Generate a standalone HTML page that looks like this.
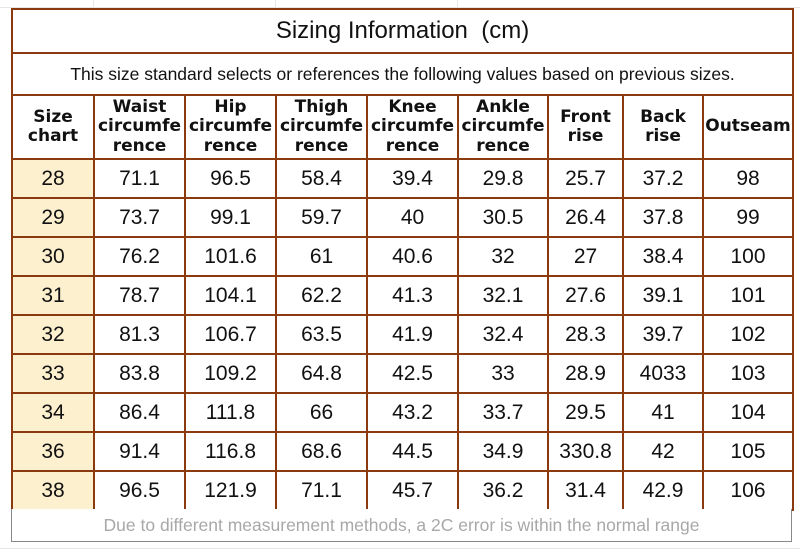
<!DOCTYPE html>
<html><head><meta charset="utf-8"><style>
body{margin:0;width:800px;height:555px;background:#fff;position:relative;overflow:hidden;font-family:"Liberation Sans","DejaVu Sans",sans-serif;}
.grid{position:absolute;background:#e6e6e6}
table{position:absolute;left:11px;top:8px;border-collapse:collapse;table-layout:fixed;width:781px}
td{border:2px solid #8b3a0f;text-align:center;padding:0;color:#111;background:#fff}
.title td{height:42px;font-size:24px}
.sub td{height:40px;font-size:17.5px}
.head td{height:62px;font-size:17px;font-weight:bold;line-height:19.5px;font-family:"DejaVu Sans","Liberation Sans",sans-serif}
.row td{height:37px;font-size:21px}
.row td.sz{background:#fdf0cf}
.foot{position:absolute;left:11px;top:509px;width:779px;height:32px;border:1px solid #888;border-top:none;color:#a8a8a8;font-size:17.5px;text-align:center;line-height:32px;background:#fff}
</style></head><body>
<div class="grid" style="left:0;top:7px;width:800px;height:1px"></div>
<div class="grid" style="left:93px;top:0;width:1px;height:8px"></div>
<div class="grid" style="left:275px;top:0;width:1px;height:8px"></div>
<div class="grid" style="left:457px;top:0;width:1px;height:8px"></div>
<div class="grid" style="left:0;top:548px;width:800px;height:1px"></div>
<table>
<colgroup><col style="width:82px"><col style="width:91px"><col style="width:91px"><col style="width:91px"><col style="width:91px"><col style="width:90px"><col style="width:75px"><col style="width:80px"><col style="width:90px"></colgroup>
<tr class="title"><td colspan="9">Sizing Information&nbsp; (cm)</td></tr>
<tr class="sub"><td colspan="9">This size standard selects or references the following values based on previous sizes.</td></tr>
<tr class="head">
<td>Size<br>chart</td><td>Waist<br>circumfe<br>rence</td><td>Hip<br>circumfe<br>rence</td><td>Thigh<br>circumfe<br>rence</td><td>Knee<br>circumfe<br>rence</td><td>Ankle<br>circumfe<br>rence</td><td>Front<br>rise</td><td>Back<br>rise</td><td>Outseam</td></tr>
<tr class="row"><td class="sz">28</td><td>71.1</td><td>96.5</td><td>58.4</td><td>39.4</td><td>29.8</td><td>25.7</td><td>37.2</td><td>98</td></tr>
<tr class="row"><td class="sz">29</td><td>73.7</td><td>99.1</td><td>59.7</td><td>40</td><td>30.5</td><td>26.4</td><td>37.8</td><td>99</td></tr>
<tr class="row"><td class="sz">30</td><td>76.2</td><td>101.6</td><td>61</td><td>40.6</td><td>32</td><td>27</td><td>38.4</td><td>100</td></tr>
<tr class="row"><td class="sz">31</td><td>78.7</td><td>104.1</td><td>62.2</td><td>41.3</td><td>32.1</td><td>27.6</td><td>39.1</td><td>101</td></tr>
<tr class="row"><td class="sz">32</td><td>81.3</td><td>106.7</td><td>63.5</td><td>41.9</td><td>32.4</td><td>28.3</td><td>39.7</td><td>102</td></tr>
<tr class="row"><td class="sz">33</td><td>83.8</td><td>109.2</td><td>64.8</td><td>42.5</td><td>33</td><td>28.9</td><td>4033</td><td>103</td></tr>
<tr class="row"><td class="sz">34</td><td>86.4</td><td>111.8</td><td>66</td><td>43.2</td><td>33.7</td><td>29.5</td><td>41</td><td>104</td></tr>
<tr class="row"><td class="sz">36</td><td>91.4</td><td>116.8</td><td>68.6</td><td>44.5</td><td>34.9</td><td>330.8</td><td>42</td><td>105</td></tr>
<tr class="row"><td class="sz">38</td><td>96.5</td><td>121.9</td><td>71.1</td><td>45.7</td><td>36.2</td><td>31.4</td><td>42.9</td><td>106</td></tr>
</table>
<div class="foot">Due to different measurement methods, a 2C error is within the normal range</div>
</body></html>
